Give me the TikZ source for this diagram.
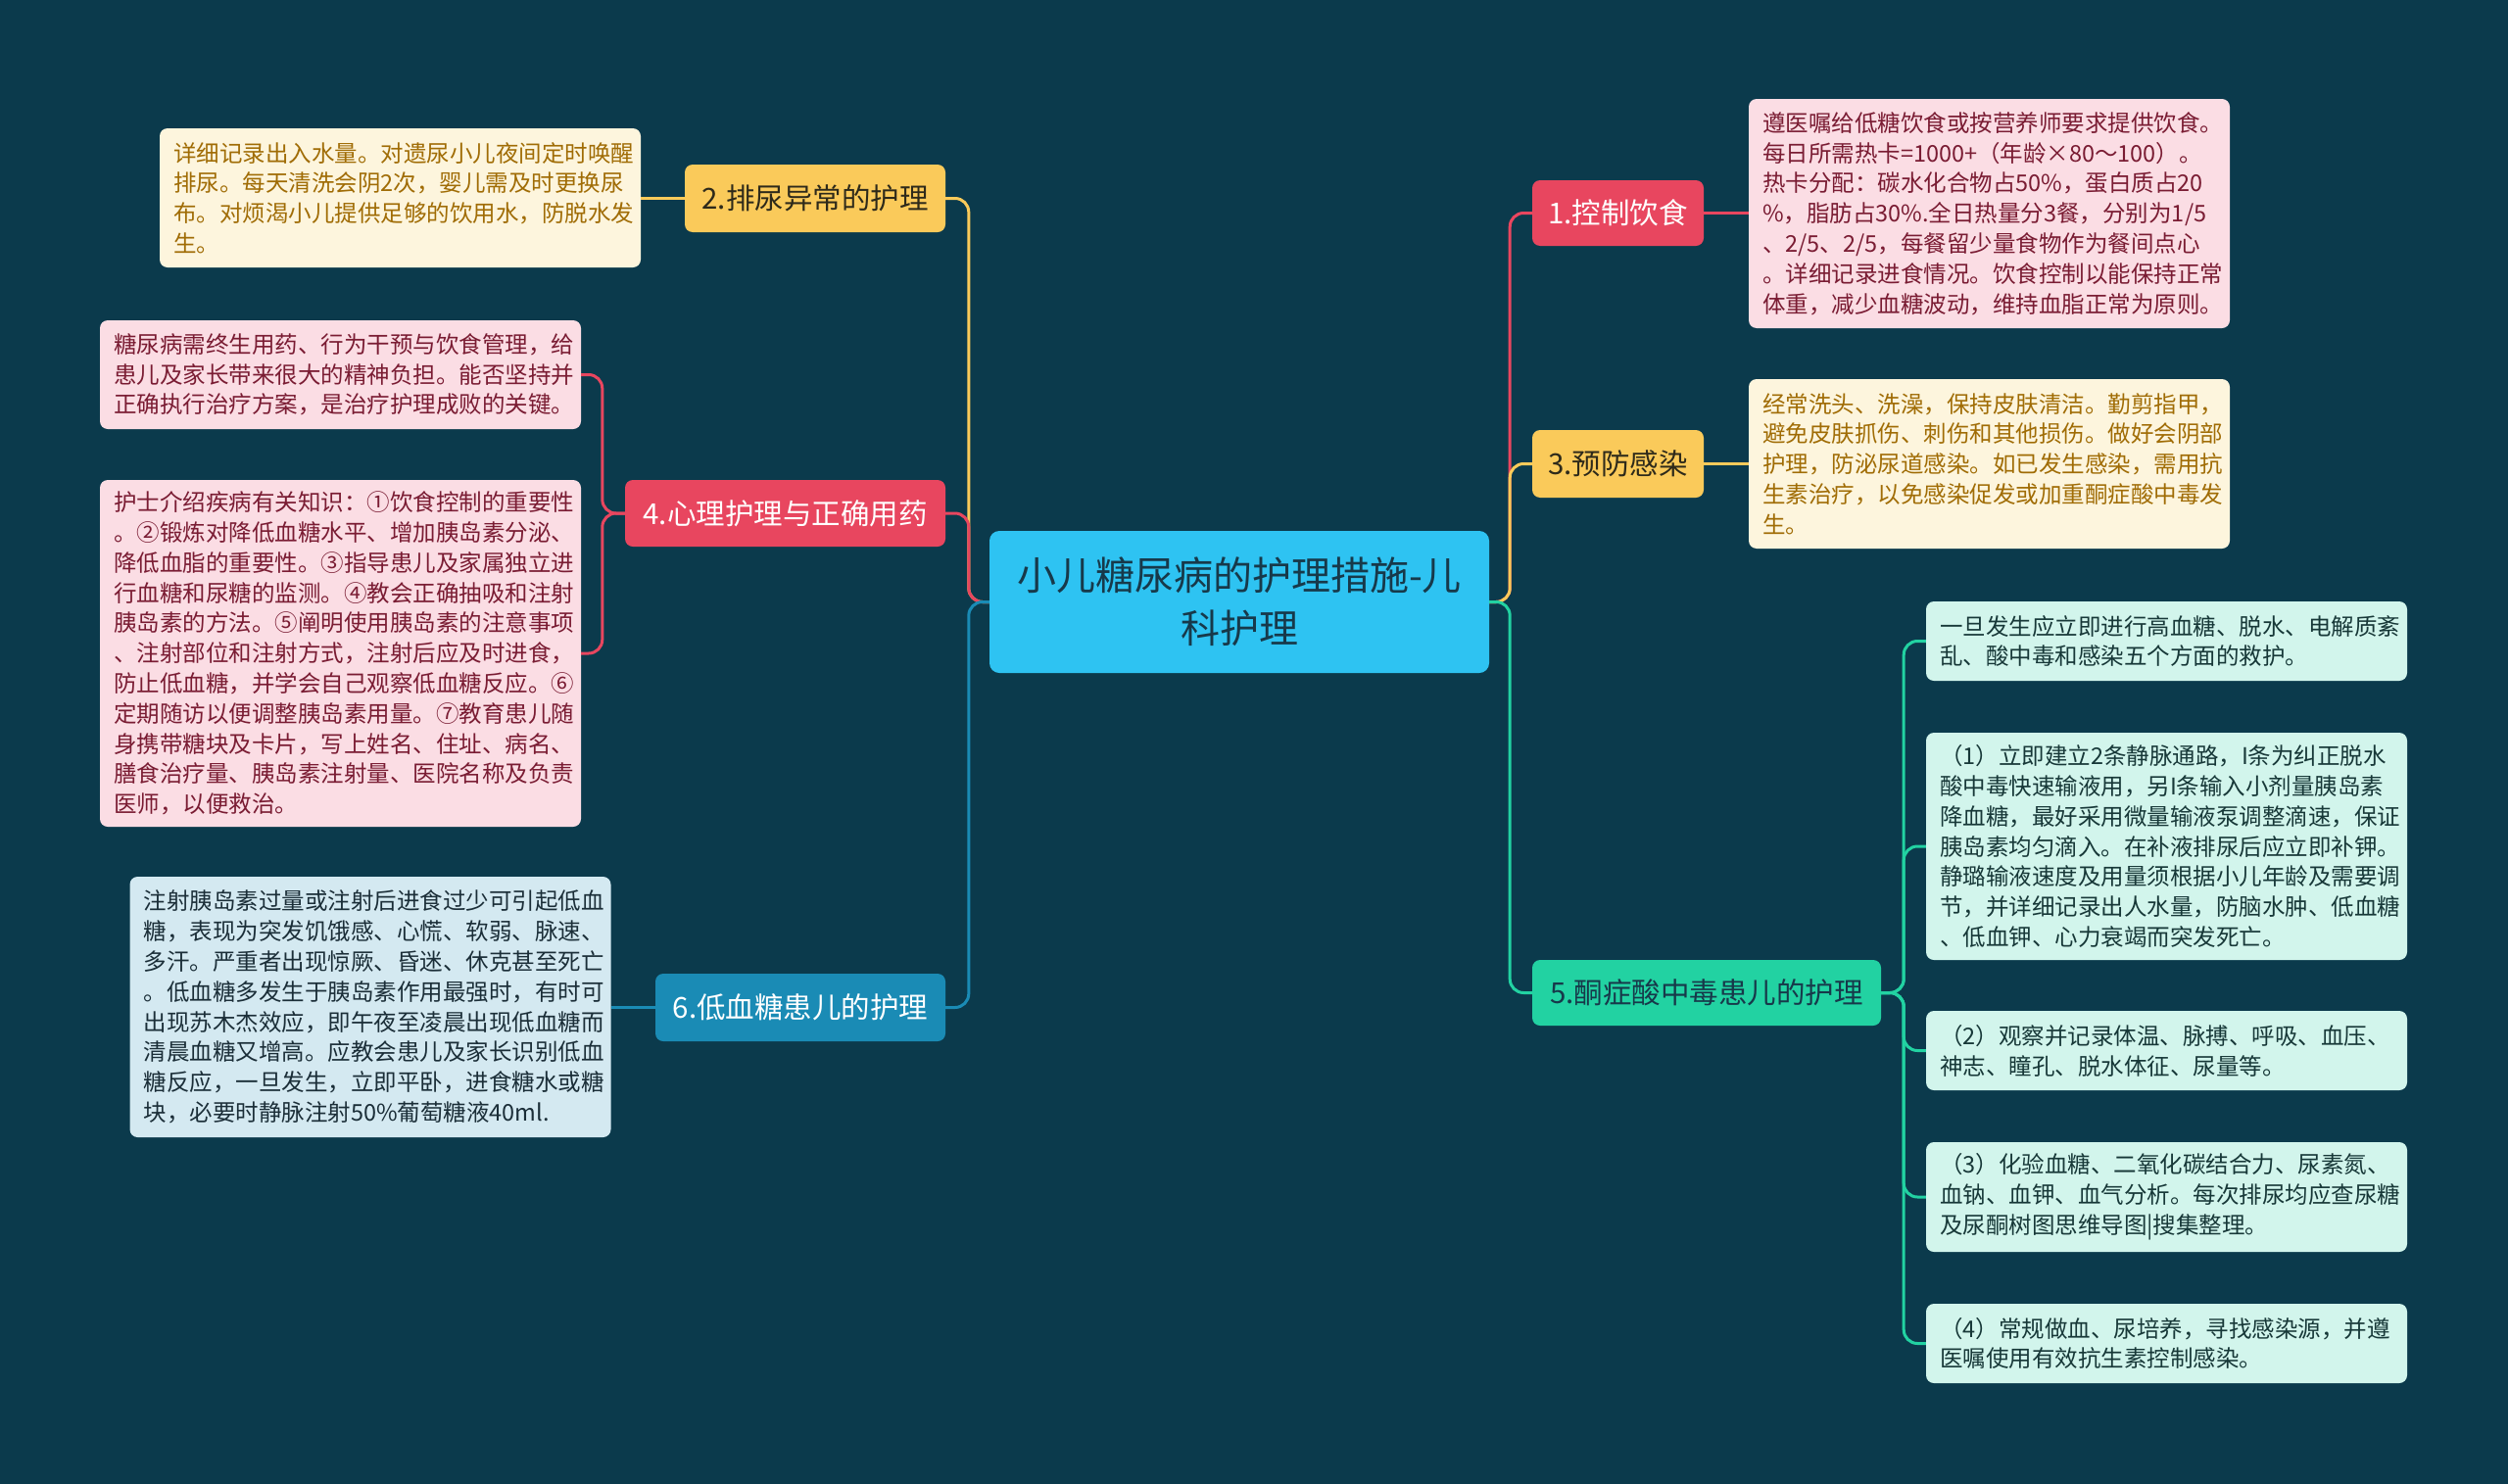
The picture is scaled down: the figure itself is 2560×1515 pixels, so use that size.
\documentclass[tikz,border=0pt]{standalone}
\usepackage{fontspec}
\setmainfont{Noto Sans CJK SC}
\definecolor{bg}{HTML}{0B3A4C}
\definecolor{rootfill}{HTML}{2EC3F2}
\definecolor{roottext}{HTML}{17394A}
\definecolor{cred}{HTML}{E8465F}
\definecolor{cyel}{HTML}{FACA5A}
\definecolor{cgrn}{HTML}{22D2A2}
\definecolor{cblu}{HTML}{1A8BB5}
\definecolor{lpink}{HTML}{FBDDE4}
\definecolor{tpink}{HTML}{7A1C33}
\definecolor{lcream}{HTML}{FDF5DD}
\definecolor{tcream}{HTML}{A06C05}
\definecolor{lmint}{HTML}{D2F5EC}
\definecolor{tmint}{HTML}{173838}
\definecolor{lblue}{HTML}{D4E9F1}
\definecolor{tblue}{HTML}{1B2E38}
\definecolor{tdark}{HTML}{2E2A1A}
\begin{document}
\begin{tikzpicture}[x=1pt,y=-1pt,
  leafbox/.style={rounded corners=8pt, inner xsep=14pt, inner ysep=0pt, align=left,
    text width=463pt, font=\fontsize{23.5}{30.8}\selectfont},
  branchbox/.style={rounded corners=8pt, inner sep=0pt, align=center,
    font=\fontsize{29.5}{34}\selectfont},
  conn/.style={line width=3pt, rounded corners=14pt}]
\useasboundingbox (0,0) rectangle (2560,1515);
\fill[bg] (0,0) rectangle (2560,1515);

% root
\node[rounded corners=10pt, fill=rootfill, text=roottext, minimum width=510pt, minimum height=145pt,
  inner sep=0pt, align=center, font=\fontsize{40}{54}\selectfont] (root) at (1265,614.5)
  {小儿糖尿病的护理措施-儿\\科护理};

% branches right
\node[branchbox, fill=cred, text=white, minimum width=175pt, minimum height=67pt] (b1) at (1651.5,217.5) {1.控制饮食};
\node[branchbox, fill=cyel, text=tdark, minimum width=175pt, minimum height=69pt] (b3) at (1651.5,473.5) {3.预防感染};
\node[branchbox, fill=cgrn, text=roottext, minimum width=356pt, minimum height=67pt] (b5) at (1742,1013.5) {5.酮症酸中毒患儿的护理};
% branches left
\node[branchbox, fill=cyel, text=tdark, minimum width=266pt, minimum height=69pt] (b2) at (832,202.5) {2.排尿异常的护理};
\node[branchbox, fill=cred, text=white, minimum width=327pt, minimum height=68pt] (b4) at (801.5,524) {4.心理护理与正确用药};
\node[branchbox, fill=cblu, text=white, minimum width=296pt, minimum height=69pt] (b6) at (817,1028.5) {6.低血糖患儿的护理};

% leaves right
\node[leafbox, fill=lpink, text=tpink, minimum height=234pt] (l1) at (2030.5,218) {遵医嘱给低糖饮食或按营养师要求提供饮食。\\每日所需热卡=1000+（年龄×80～100）。\\热卡分配：碳水化合物占50\%，蛋白质占20\\\%，脂肪占30\%.全日热量分3餐，分别为1/5\\、2/5、2/5，每餐留少量食物作为餐间点心\\。详细记录进食情况。饮食控制以能保持正常\\体重，减少血糖波动，维持血脂正常为原则。};
\node[leafbox, fill=lcream, text=tcream, minimum height=173pt] (l3) at (2030.5,473.5) {经常洗头、洗澡，保持皮肤清洁。勤剪指甲，\\避免皮肤抓伤、刺伤和其他损伤。做好会阴部\\护理，防泌尿道感染。如已发生感染，需用抗\\生素治疗，以免感染促发或加重酮症酸中毒发\\生。};
\node[leafbox, fill=lmint, text=tmint, minimum height=81pt] (l5a) at (2211.5,654.5) {一旦发生应立即进行高血糖、脱水、电解质紊\\乱、酸中毒和感染五个方面的救护。};
\node[leafbox, fill=lmint, text=tmint, minimum height=232pt] (l5b) at (2211.5,864) {（1）立即建立2条静脉通路，I条为纠正脱水\\酸中毒快速输液用，另I条输入小剂量胰岛素\\降血糖，最好采用微量输液泵调整滴速，保证\\胰岛素均匀滴入。在补液排尿后应立即补钾。\\静璐输液速度及用量须根据小儿年龄及需要调\\节，并详细记录出人水量，防脑水肿、低血糖\\、低血钾、心力衰竭而突发死亡。};
\node[leafbox, fill=lmint, text=tmint, minimum height=81pt] (l5c) at (2211.5,1072.5) {（2）观察并记录体温、脉搏、呼吸、血压、\\神志、瞳孔、脱水体征、尿量等。};
\node[leafbox, fill=lmint, text=tmint, minimum height=112pt] (l5d) at (2211.5,1222) {（3）化验血糖、二氧化碳结合力、尿素氮、\\血钠、血钾、血气分析。每次排尿均应查尿糖\\及尿酮树图思维导图|搜集整理。};
\node[leafbox, fill=lmint, text=tmint, minimum height=81pt] (l5e) at (2211.5,1371.5) {（4）常规做血、尿培养，寻找感染源，并遵\\医嘱使用有效抗生素控制感染。};

% leaves left
\node[leafbox, fill=lcream, text=tcream, minimum height=142pt] (l2) at (408.5,202) {详细记录出入水量。对遗尿小儿夜间定时唤醒\\排尿。每天清洗会阴2次，婴儿需及时更换尿\\布。对烦渴小儿提供足够的饮用水，防脱水发\\生。};
\node[leafbox, fill=lpink, text=tpink, minimum height=111pt] (l4a) at (347.5,382.5) {糖尿病需终生用药、行为干预与饮食管理，给\\患儿及家长带来很大的精神负担。能否坚持并\\正确执行治疗方案，是治疗护理成败的关键。};
\node[leafbox, fill=lpink, text=tpink, minimum height=354pt] (l4b) at (347.5,667) {护士介绍疾病有关知识：①饮食控制的重要性\\。②锻炼对降低血糖水平、增加胰岛素分泌、\\降低血脂的重要性。③指导患儿及家属独立进\\行血糖和尿糖的监测。④教会正确抽吸和注射\\胰岛素的方法。⑤阐明使用胰岛素的注意事项\\、注射部位和注射方式，注射后应及时进食，\\防止低血糖，并学会自己观察低血糖反应。⑥\\定期随访以便调整胰岛素用量。⑦教育患儿随\\身携带糖块及卡片，写上姓名、住址、病名、\\膳食治疗量、胰岛素注射量、医院名称及负责\\医师，以便救治。};
\node[leafbox, fill=lblue, text=tblue, minimum height=266pt] (l6) at (378,1028) {注射胰岛素过量或注射后进食过少可引起低血\\糖，表现为突发饥饿感、心慌、软弱、脉速、\\多汗。严重者出现惊厥、昏迷、休克甚至死亡\\。低血糖多发生于胰岛素作用最强时，有时可\\出现苏木杰效应，即午夜至凌晨出现低血糖而\\清晨血糖又增高。应教会患儿及家长识别低血\\糖反应，一旦发生，立即平卧，进食糖水或糖\\块，必要时静脉注射50\%葡萄糖液40ml.};

% connectors root -> branches
\draw[conn, cyel] (root.west) -- ++(-21,0) |- (b2.east);
\draw[conn, cred] (root.west) -- ++(-21,0) |- (b4.east);
\draw[conn, cblu] (root.west) -- ++(-21,0) |- (b6.east);
\draw[conn, cred] (root.east) -- ++(21,0) |- (b1.west);
\draw[conn, cyel] (root.east) -- ++(21,0) |- (b3.west);
\draw[conn, cgrn] (root.east) -- ++(21,0) |- (b5.west);

% branches -> leaves
\draw[conn, cred] (b1.east) -- (b1.east -| l1.west);
\draw[conn, cyel] (b3.east) -- (b3.east -| l3.west);
\draw[conn, cyel] (b2.west) -- (b2.west -| l2.east);
\draw[conn, cblu] (b6.west) -- (b6.west -| l6.east);
\draw[conn, cred] (b4.west) -- ++(-23,0) |- (l4a.east);
\draw[conn, cred] (b4.west) -- ++(-23,0) |- (l4b.east);
\foreach \l in {l5a,l5b,l5c,l5d,l5e}
  \draw[conn, cgrn] (b5.east) -- ++(23,0) |- (\l.west);
\end{tikzpicture}
\end{document}
